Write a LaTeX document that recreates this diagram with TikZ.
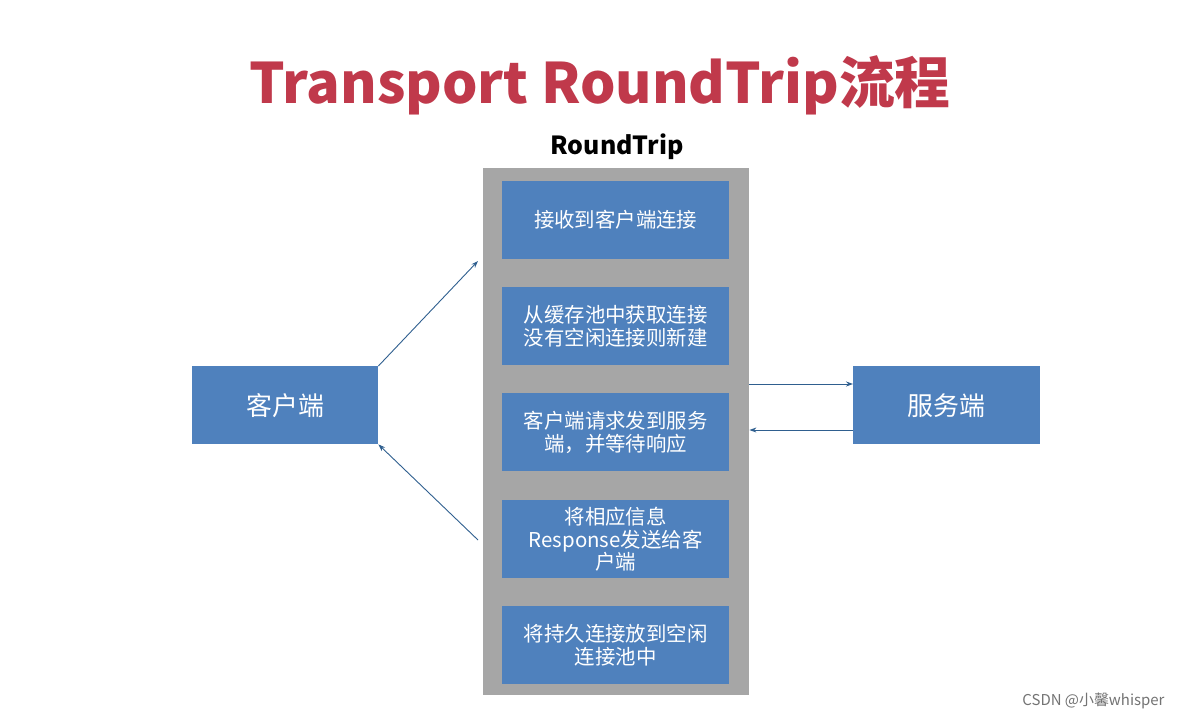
\documentclass[tikz,border=0pt]{standalone}
\usetikzlibrary{arrows.meta}
\usepackage{fontspec}
\setmainfont{Noto Sans CJK SC}
\definecolor{boxblue}{HTML}{4F81BD}
\definecolor{titlered}{HTML}{C0394B}
\definecolor{arr}{HTML}{2F5F8F}
\begin{document}
\begin{tikzpicture}[x=1bp,y=-1bp,
  stepbox/.style={fill=boxblue,draw=none,minimum width=227bp,minimum height=78bp,text=white,font=\fontsize{20.5}{23}\selectfont,align=center,anchor=north west,inner sep=0pt},
  sidebox/.style={fill=boxblue,draw=none,minimum width=186bp,minimum height=78bp,text=white,font=\fontsize{26}{30}\selectfont,anchor=north west,inner sep=0pt},
  conn/.style={draw=arr,line width=0.9pt,-{Stealth[length=7bp,width=5bp]}}]
\useasboundingbox (0,0) rectangle (1183,721);
\fill[white] (0,0) rectangle (1183,721);
\node[text=titlered,font=\fontsize{56}{62}\selectfont\bfseries] (title) at (600,85) {Transport RoundTrip流程};
\node[font=\fontsize{25}{28}\selectfont\bfseries] (rt) at (617,147) {RoundTrip};
\node[fill=black!35,draw=none,minimum width=266bp,minimum height=527bp,anchor=north west,inner sep=0pt] (gray) at (483,168) {};
\node[stepbox] (s1) at (502,181) {接收到客户端连接};
\node[stepbox] (s2) at (502,287) {从缓存池中获取连接\\没有空闲连接则新建};
\node[stepbox] (s3) at (502,393) {客户端请求发到服务\\端，并等待响应};
\node[stepbox] (s4) at (502,500) {将相应信息\\Response发送给客\\户端};
\node[stepbox] (s5) at (502,606) {将持久连接放到空闲\\连接池中};
\node[sidebox] (client) at (192,366) {客户端};
\node[sidebox,minimum width=187bp] (server) at (853,366) {服务端};
\coordinate (a1) at (478,261);
\coordinate (a2) at (478,540);
\draw[conn] (client.north east) -- (a1);
\draw[conn] (a2) -- (client.south east);
\draw[conn] (gray.east |- 0,384) -- (server.west |- 0,384);
\draw[conn] (server.west |- 0,430) -- (gray.east |- 0,430);
\node[text=black!55,font=\fontsize{15}{17}\selectfont,anchor=east] (wm) at (1168,701) {CSDN @小馨whisper};
\end{tikzpicture}
\end{document}
